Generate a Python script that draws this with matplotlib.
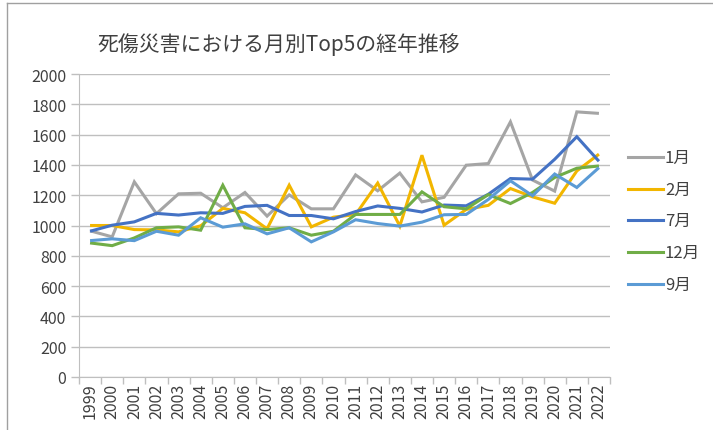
import matplotlib
matplotlib.use("Agg")
import matplotlib.pyplot as plt
from matplotlib.lines import Line2D

plt.rcParams['font.family'] = ['Noto Sans CJK JP', 'DejaVu Sans']

years = [str(y) for y in range(1999, 2023)]
jan = [965, 925, 1288, 1078, 1209, 1213, 1117, 1218, 1062, 1202, 1110, 1110,
       1334, 1229, 1346, 1156, 1186, 1398, 1409, 1684, 1300, 1227, 1750, 1740]
feb = [1000, 1000, 973, 971, 958, 998, 1113, 1084, 978, 1266, 991, 1055,
       1072, 1280, 996, 1464, 1002, 1106, 1133, 1244, 1189, 1147, 1360, 1471]
jul = [962, 1002, 1024, 1080, 1069, 1084, 1080, 1126, 1133, 1066, 1066, 1044,
       1092, 1129, 1113, 1089, 1135, 1130, 1206, 1310, 1306, 1437, 1586, 1424]
dec = [885, 867, 918, 985, 991, 969, 1266, 985, 973, 985, 936, 962,
       1073, 1073, 1073, 1222, 1124, 1110, 1204, 1145, 1218, 1317, 1378, 1393]
sep = [900, 912, 900, 962, 936, 1051, 989, 1011, 945, 985, 892, 958,
       1038, 1013, 996, 1022, 1071, 1073, 1172, 1295, 1196, 1340, 1251, 1382]

series = [("1月", jan, "#A5A5A5"),
          ("2月", feb, "#F2B600"),
          ("7月", jul, "#4472C4"),
          ("12月", dec, "#70AD47"),
          ("9月", sep, "#5B9BD5")]

W, H = 713, 431
fig = plt.figure(figsize=(W / 100, H / 100), dpi=100)
ax = fig.add_axes([79 / W, 1 - 378 / H, (610 - 79) / W, (378 - 75) / H])

x = list(range(len(years)))
for name, vals, col in series:
    ax.plot(x, vals, color=col, lw=2.2, solid_joinstyle='miter',
            solid_capstyle='butt', label=name)

ax.set_xlim(-0.5, len(years) - 0.5)
ax.set_ylim(0, 2000)
ax.set_yticks(range(0, 2001, 200))
ax.set_xticks(x)
ax.set_xticklabels(years, rotation=90, fontsize=11.5, color='#404040')
ax.tick_params(axis='x', length=0, pad=4)
ax.set_xticks([i - 0.5 for i in range(len(years) + 1)], minor=True)
ax.tick_params(axis='x', which='minor', length=5, color='#BFBFBF', width=1)
ax.tick_params(axis='y', labelsize=11.5, labelcolor='#404040', length=6,
               color='#BFBFBF', width=1, pad=3)

ax.grid(axis='y', color='#BFBFBF', lw=1)
ax.set_axisbelow(True)
for s in ['top', 'right']:
    ax.spines[s].set_visible(False)
ax.spines['left'].set_color('#BFBFBF')
ax.spines['bottom'].set_color('#BFBFBF')

# legend
leg_y = [158, 190, 221, 253, 285]
for (name, vals, col), yy in zip(series, leg_y):
    fy = 1 - yy / H
    fig.add_artist(Line2D([628 / W, 663 / W], [fy, fy], color=col, lw=2.2))
    fig.text(665 / W, fy, name, fontsize=12, va='center', ha='left', color='#404040')

fig.text(97 / W, 1 - 45 / H, "死傷災害における月別Top5の経年推移", fontsize=15,
         va='center', ha='left', color='#404040')

# chart border
fig.add_artist(Line2D([7 / W, 7 / W], [0, 1 - 4 / H], color='#A0A0A0', lw=1))
fig.add_artist(Line2D([7 / W, 1], [1 - 4 / H, 1 - 4 / H], color='#A0A0A0', lw=1))

fig.savefig("out.png", dpi=100)
